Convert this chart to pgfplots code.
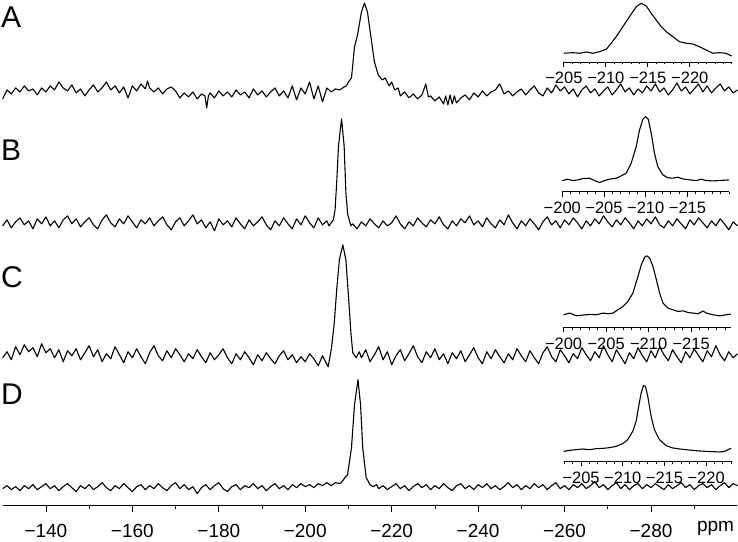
\documentclass[border=0pt]{standalone}
\usepackage{fontspec}
\setmainfont{Liberation Sans}
\usepackage{pgfplots}
\pgfplotsset{compat=1.18}
\pgfplotsset{
  spec/.style={black, line width=1.1pt, line join=round},
  nmrbase/.style={scale only axis, anchor=south west, axis x line=bottom, axis y line=none,
    axis line style={-, line width=0.9pt}, x dir=reverse, clip=false, enlargelimits=false,
    tick align=outside, tick style={black, line width=0.8pt}},
  nmrinset/.style={nmrbase, major tick length=5pt, minor tick length=2.5pt,
    xticklabel style={font=\fontsize{16.5}{16.5}\selectfont, anchor=base, yshift=-17pt}},
}
\begin{document}
\begin{tikzpicture}
\path (0pt,0pt) rectangle (738pt,-537pt);
% main spectra, y in pixels from the top (negated)
\begin{axis}[nmrbase, at={(2.7pt,-506pt)}, width=735.3pt, height=506pt,
  xmin=-300, xmax=-130, ymin=-506, ymax=0,
  major tick length=6pt, minor tick length=3.5pt,
  xtick={-140,-160,-180,-200,-220,-240,-260,-280},
  xticklabels={−140,−160,−180,−200,−220,−240,−260,−280},
  minor xtick={-150,-170,-190,-210,-230,-250,-270,-290},
  xticklabel style={font=\fontsize{19}{19}\selectfont, anchor=base, yshift=-26pt}]
% A
\addplot[spec] coordinates {
(-130,-99)(-131,-90)(-132,-94)(-133,-88)(-134,-92)(-135,-86)(-136,-91)(-137,-89)(-138,-95)(-139,-88)
(-140,-92)(-141,-86)(-142,-90)(-143,-82)(-144,-88)(-145,-91)(-146,-85)(-147,-93)(-148,-89)(-149,-96)
(-150,-90)(-151,-85)(-152,-92)(-153,-88)(-154,-82)(-155,-90)(-156,-86)(-157,-93)(-158,-87)(-159,-98)
(-160,-86)(-161,-91)(-162,-84)(-163,-89)(-163.5,-81)(-164,-88)(-165,-92)(-166,-88)(-167,-94)(-168,-89)
(-169,-87)(-170,-91)(-171,-98)(-172,-93)(-173,-97)(-174,-92)(-175,-99)(-176,-94)(-176.8,-96)(-177.2,-108)
(-177.6,-96)(-178,-93)(-179,-98)(-180,-91)(-181,-96)(-182,-92)(-183,-97)(-184,-90)(-185,-95)(-186,-92)
(-187,-98)(-188,-89)(-189,-95)(-190,-91)(-191,-97)(-192,-92)(-193,-88)(-194,-96)(-195,-91)(-196,-98)
(-197,-86)(-198,-100)(-199,-88)(-200,-94)(-201,-82)(-202,-99)(-203,-86)(-204,-102)(-205,-88)(-206,-92)
(-207,-89)(-208,-90)(-209,-87)(-209.5,-86)(-210,-82)(-210.7,-78)(-211.4,-47)(-212.1,-35)(-213,-12)(-213.7,-3)
(-214.4,-12)(-215.3,-40)(-216,-62)(-216.9,-75)(-217.8,-80)(-218.5,-78)(-219.4,-86)(-220,-82)(-220.7,-90)(-221.5,-88)
(-222,-96)(-223,-92)(-224,-98)(-225,-94)(-226,-99)(-227,-95)(-227.9,-84)(-228.5,-97)(-229,-96)(-230,-101)
(-231,-97)(-232,-104)(-232.5,-96)(-233,-105)(-233.5,-95)(-234,-104)(-234.5,-96)(-235,-103)(-236,-98)(-237,-95)
(-238,-100)(-239,-93)(-240,-97)(-241,-91)(-242,-96)(-243,-92)(-244,-90)(-245,-84)(-246,-94)(-247,-91)
(-248,-96)(-249,-92)(-250,-89)(-251,-95)(-252,-90)(-253,-86)(-254,-93)(-255,-96)(-256,-88)(-257,-93)
(-258,-85)(-259,-91)(-260,-87)(-261,-94)(-262,-89)(-263,-97)(-264,-90)(-265,-86)(-266,-93)(-267,-89)
(-268,-96)(-269,-91)(-270,-87)(-271,-95)(-272,-90)(-273,-84)(-274,-92)(-275,-88)(-276,-95)(-277,-89)
(-278,-93)(-279,-86)(-280,-91)(-281,-84)(-282,-92)(-283,-88)(-284,-95)(-285,-90)(-286,-83)(-287,-91)
(-288,-87)(-289,-94)(-290,-89)(-291,-84)(-292,-92)(-293,-86)(-294,-93)(-295,-88)(-296,-84)(-297,-91)
(-298,-87)(-299,-93)(-300,-90)};
% B
\addplot[spec] coordinates {
(-130,-226)(-131,-220)(-132,-228)(-133,-222)(-134,-218)(-135,-225)(-136,-221)(-137,-229)(-138,-219)(-139,-224)
(-140,-217)(-141,-226)(-142,-221)(-143,-228)(-144,-220)(-145,-216)(-146,-224)(-147,-219)(-148,-227)(-149,-222)
(-150,-218)(-151,-225)(-152,-229)(-153,-220)(-154,-215)(-155,-223)(-156,-227)(-157,-219)(-158,-224)(-159,-216)
(-160,-222)(-161,-228)(-162,-220)(-163,-224)(-164,-218)(-165,-226)(-166,-221)(-167,-217)(-168,-225)(-169,-230)
(-170,-222)(-171,-218)(-172,-226)(-173,-221)(-174,-215)(-175,-224)(-176,-220)(-177,-228)(-178,-222)(-179,-231)
(-180,-219)(-181,-225)(-182,-221)(-183,-227)(-184,-218)(-185,-224)(-186,-229)(-187,-220)(-188,-226)(-189,-222)
(-190,-217)(-191,-225)(-192,-230)(-193,-221)(-194,-226)(-195,-218)(-196,-224)(-197,-229)(-198,-219)(-199,-225)
(-200,-216)(-201,-223)(-202,-228)(-203,-218)(-204,-225)(-205,-221)(-205.5,-226)(-206,-223)(-206.5,-220)(-206.9,-210)
(-207.3,-181)(-207.7,-146)(-208.4,-119)(-209,-146)(-209.4,-192)(-209.8,-214)(-210.3,-222)(-210.6,-226)(-211,-224)(-212,-229)
(-213,-222)(-214,-226)(-215,-219)(-216,-224)(-217,-228)(-218,-221)(-219,-226)(-220,-223)(-221,-216)(-222,-224)
(-223,-229)(-224,-222)(-225,-226)(-226,-218)(-227,-223)(-228,-227)(-229,-220)(-230,-224)(-231,-217)(-232,-225)
(-233,-229)(-234,-221)(-235,-226)(-236,-219)(-237,-223)(-238,-216)(-239,-225)(-240,-221)(-241,-227)(-242,-218)
(-243,-224)(-244,-228)(-245,-220)(-246,-225)(-247,-215)(-248,-223)(-249,-229)(-250,-221)(-251,-226)(-252,-219)
(-253,-224)(-254,-230)(-255,-222)(-256,-217)(-257,-225)(-258,-221)(-259,-228)(-260,-220)(-261,-225)(-262,-218)
(-263,-223)(-264,-229)(-265,-221)(-266,-226)(-267,-219)(-268,-224)(-269,-216)(-270,-222)(-271,-227)(-272,-220)
(-273,-225)(-274,-218)(-275,-223)(-276,-229)(-277,-221)(-278,-226)(-279,-219)(-280,-224)(-281,-217)(-282,-225)
(-283,-228)(-284,-221)(-285,-226)(-286,-219)(-287,-224)(-288,-229)(-289,-220)(-290,-225)(-291,-218)(-292,-223)
(-293,-228)(-294,-221)(-295,-226)(-296,-219)(-297,-224)(-298,-230)(-299,-222)(-300,-226)};
% C
\addplot[spec] coordinates {
(-130,-358)(-131,-352)(-132,-360)(-133,-347)(-134,-355)(-135,-345)(-136,-352)(-137,-348)(-138,-357)(-139,-344)
(-140,-353)(-141,-349)(-142,-358)(-143,-350)(-144,-362)(-145,-351)(-146,-356)(-147,-349)(-148,-360)(-149,-353)
(-150,-346)(-151,-357)(-152,-350)(-153,-362)(-154,-354)(-155,-359)(-156,-347)(-157,-355)(-158,-363)(-159,-352)
(-160,-358)(-161,-349)(-162,-357)(-163,-364)(-164,-353)(-165,-346)(-166,-356)(-167,-361)(-168,-351)(-169,-358)
(-170,-349)(-171,-355)(-172,-362)(-173,-354)(-174,-359)(-175,-350)(-176,-357)(-177,-363)(-178,-353)(-179,-360)
(-180,-355)(-181,-349)(-182,-358)(-183,-364)(-184,-354)(-185,-360)(-186,-352)(-187,-358)(-188,-365)(-189,-355)
(-190,-361)(-191,-353)(-192,-359)(-193,-364)(-194,-356)(-195,-351)(-196,-360)(-197,-355)(-198,-363)(-199,-357)
(-200,-362)(-201,-354)(-202,-359)(-203,-366)(-204,-356)(-204.7,-362)(-205.3,-367)(-206.05,-349)(-206.7,-324)(-207.3,-289)
(-207.9,-260)(-208.7,-245)(-209.4,-260)(-210,-296)(-210.6,-335)(-211,-353)(-211.8,-358)(-212.5,-352)(-213,-358)(-214,-350)
(-215,-362)(-216,-355)(-217,-347)(-218,-360)(-219,-352)(-220,-365)(-221,-356)(-222,-350)(-223,-361)(-224,-354)
(-225,-346)(-226,-357)(-227,-363)(-228,-352)(-229,-358)(-230,-349)(-231,-360)(-232,-354)(-233,-364)(-234,-353)
(-235,-359)(-236,-351)(-237,-362)(-238,-355)(-239,-348)(-240,-358)(-241,-364)(-242,-352)(-243,-359)(-244,-350)
(-245,-357)(-246,-363)(-247,-354)(-248,-360)(-249,-349)(-250,-356)(-251,-362)(-252,-351)(-253,-358)(-254,-364)
(-255,-353)(-256,-347)(-257,-357)(-258,-362)(-259,-350)(-260,-356)(-261,-363)(-262,-354)(-263,-359)(-264,-348)
(-265,-355)(-266,-361)(-267,-352)(-268,-358)(-269,-346)(-270,-355)(-271,-362)(-272,-350)(-273,-357)(-274,-364)
(-275,-353)(-276,-359)(-277,-348)(-278,-356)(-279,-362)(-280,-351)(-281,-358)(-282,-347)(-283,-355)(-284,-361)
(-285,-350)(-286,-357)(-287,-363)(-288,-352)(-289,-358)(-290,-349)(-291,-356)(-292,-362)(-293,-351)(-294,-357)
(-295,-346)(-296,-355)(-297,-361)(-298,-352)(-299,-358)(-300,-354)};
% D
\addplot[spec] coordinates {
(-130,-489)(-131,-486)(-132,-490)(-133,-487)(-134,-491)(-135,-486)(-136,-489)(-137,-485)(-138,-490)(-139,-487)
(-140,-484)(-141,-489)(-142,-486)(-143,-491)(-144,-487)(-145,-484)(-146,-488)(-147,-492)(-148,-486)(-149,-489)
(-150,-485)(-151,-490)(-152,-487)(-153,-483)(-154,-488)(-155,-491)(-156,-486)(-157,-489)(-158,-484)(-159,-488)
(-160,-492)(-161,-487)(-162,-485)(-163,-490)(-164,-486)(-165,-489)(-166,-484)(-167,-488)(-168,-491)(-169,-486)
(-170,-483)(-171,-489)(-172,-485)(-173,-490)(-174,-487)(-175,-494)(-176,-488)(-177,-485)(-178,-490)(-179,-486)
(-180,-483)(-181,-489)(-182,-492)(-183,-487)(-184,-485)(-185,-490)(-186,-486)(-187,-488)(-188,-484)(-189,-489)
(-190,-486)(-191,-491)(-192,-487)(-193,-484)(-194,-489)(-195,-486)(-196,-490)(-197,-485)(-198,-488)(-199,-484)
(-200,-487)(-201,-485)(-202,-488)(-203,-484)(-204,-486)(-205,-483)(-206,-486)(-207,-483)(-208,-484)(-208.5,-482)
(-209.2,-478)(-209.8,-475)(-210.7,-448)(-211.4,-405)(-212.2,-380)(-212.8,-405)(-213.3,-448)(-214.1,-478)(-215,-485)(-215.7,-487)
(-216.5,-485)(-217,-489)(-218,-486)(-219,-490)(-220,-487)(-221,-484)(-222,-489)(-223,-486)(-224,-491)(-225,-487)
(-226,-484)(-227,-488)(-228,-485)(-229,-490)(-230,-486)(-231,-489)(-232,-484)(-233,-488)(-234,-491)(-235,-486)
(-236,-484)(-237,-489)(-238,-486)(-239,-490)(-240,-485)(-241,-488)(-242,-484)(-243,-489)(-244,-486)(-245,-490)
(-246,-487)(-247,-483)(-248,-488)(-249,-485)(-250,-490)(-251,-486)(-252,-489)(-253,-484)(-254,-488)(-255,-485)
(-256,-490)(-257,-486)(-258,-483)(-259,-489)(-260,-486)(-261,-490)(-262,-485)(-263,-488)(-264,-484)(-265,-489)
(-266,-486)(-267,-482)(-268,-488)(-269,-485)(-270,-490)(-271,-486)(-272,-483)(-273,-489)(-274,-485)(-275,-490)
(-276,-486)(-277,-484)(-278,-489)(-279,-485)(-280,-488)(-281,-484)(-282,-487)(-283,-490)(-284,-485)(-285,-489)
(-286,-486)(-287,-483)(-288,-488)(-289,-485)(-290,-490)(-291,-486)(-292,-484)(-293,-488)(-294,-485)(-295,-490)
(-296,-486)(-297,-483)(-298,-488)(-299,-484)(-300,-486)};
\end{axis}
% inset A
\begin{axis}[nmrinset, at={(564.3pt,-62pt)}, width=168pt, height=62pt,
  xmin=-225, xmax=-205, ymin=-62, ymax=0,
  xtick={-205,-210,-215,-220}, xticklabels={−205,−210,−215,−220},
  minor xtick={-205,-206,...,-225}]
\addplot[spec] coordinates {
(-205,-53.3)(-206.07,-52.7)(-206.87,-53.3)(-207.67,-52)(-208.45,-53.3)(-209.25,-51.7)(-210.05,-49.3)
(-210.64,-43.3)(-211.24,-36.7)(-212.02,-26.7)(-212.82,-16.7)(-213.62,-6.7)(-214.21,-3.3)(-214.81,-6)
(-215.4,-13.3)(-216,-20)(-216.6,-26.7)(-217.19,-31.7)(-217.98,-36.7)(-218.77,-41.7)(-219.57,-43.3)
(-220.36,-44)(-221.15,-46.7)(-221.95,-50)(-222.74,-53.3)(-223.5,-52.7)(-224.3,-53.3)(-225,-56)};
\end{axis}
% inset B
\begin{axis}[nmrinset, at={(562.7pt,-191.7pt)}, width=167pt, height=81.7pt,
  xmin=-220, xmax=-200, ymin=-191.7, ymax=-110,
  xtick={-200,-205,-210,-215}, xticklabels={−200,−205,−210,−215},
  minor xtick={-200,-201,...,-220}]
\addplot[spec] coordinates {
(-200,-180.7)(-200.67,-179.3)(-201.27,-180.7)(-201.87,-180)(-202.47,-178.7)(-203.27,-178.3)(-203.87,-180.7)
(-204.47,-182.7)(-205.07,-180.7)(-205.66,-179.3)(-206.47,-178.3)(-207.07,-176)(-207.66,-173.3)(-208.26,-163.3)
(-208.86,-146.7)(-209.26,-130)(-209.66,-119.3)(-209.98,-116.7)(-210.3,-119.3)(-210.66,-133.3)(-211.05,-153.3)
(-211.45,-166.7)(-212.05,-175)(-212.65,-178)(-213.25,-178.3)(-213.84,-177.3)(-214.44,-179)(-215.25,-180)
(-216.05,-180.7)(-216.65,-179.3)(-217.25,-180.7)(-218.04,-181)(-218.84,-180.7)(-220,-180)};
\end{axis}
% inset C
\begin{axis}[nmrinset, at={(564pt,-327.3pt)}, width=167.7pt, height=87.3pt,
  xmin=-219.7, xmax=-200, ymin=-327.3, ymax=-240,
  xtick={-200,-205,-210,-215}, xticklabels={−200,−205,−210,−215},
  minor xtick={-200,-201,...,-219}]
\addplot[spec] coordinates {
(-200,-315)(-200.71,-313.3)(-201.49,-316)(-202.27,-315.3)(-203.06,-314.7)(-203.85,-315)(-204.62,-313.3)
(-205.21,-314)(-205.8,-313.3)(-206.39,-310)(-206.98,-306.7)(-207.56,-301.7)(-208.15,-293.3)(-208.74,-276.7)
(-209.14,-265)(-209.53,-257.3)(-209.8,-256)(-210.12,-258.3)(-210.51,-266.7)(-210.91,-280)(-211.29,-293.3)
(-211.68,-303.3)(-212.27,-308.3)(-212.86,-310)(-213.45,-311.7)(-214.04,-311)(-214.62,-312.7)(-215.21,-313.3)
(-215.8,-314)(-216.39,-311.3)(-216.79,-313.3)(-217.56,-315)(-218.35,-316)(-219.14,-315)(-219.7,-314.3)};
\end{axis}
% inset D
\begin{axis}[nmrinset, at={(564pt,-461.7pt)}, width=167.7pt, height=86.7pt,
  xmin=-223, xmax=-202.9, ymin=-461.7, ymax=-375,
  xtick={-205,-210,-215,-220}, xticklabels={−205,−210,−215,−220},
  minor xtick={-203,-204,...,-223}]
\addplot[spec] coordinates {
(-202.9,-451.7)(-203.6,-450.7)(-204.4,-450)(-205.19,-449.3)(-206,-450)(-206.8,-449)(-207.59,-448.7)
(-208.4,-448)(-209.2,-446.7)(-209.99,-444)(-210.59,-440)(-211.19,-431.7)(-211.6,-421.7)(-211.91,-406.7)
(-212.2,-393.3)(-212.48,-386)(-212.72,-386.7)(-213,-396.7)(-213.4,-416.7)(-213.8,-430)(-214.4,-440)
(-215.2,-446)(-216,-448.3)(-216.8,-449.3)(-217.6,-450)(-218.4,-450.7)(-219.2,-451.3)(-220,-451.7)
(-220.8,-452)(-221.6,-452.3)(-222.2,-451.7)(-222.8,-449.3)(-223,-448.7)};
\end{axis}
% panel letters and unit
\begin{scope}[every node/.style={inner sep=0pt, anchor=base west, font=\fontsize{30}{30}\selectfont}]
\node at (1pt,-28pt) {A};
\node at (1pt,-161pt) {B};
\node at (1pt,-288pt) {C};
\node at (1pt,-405pt) {D};
\end{scope}
\node[inner sep=0pt, anchor=base, font=\fontsize{19}{19}\selectfont] at (716pt,-532pt) {ppm};
\end{tikzpicture}
\end{document}
